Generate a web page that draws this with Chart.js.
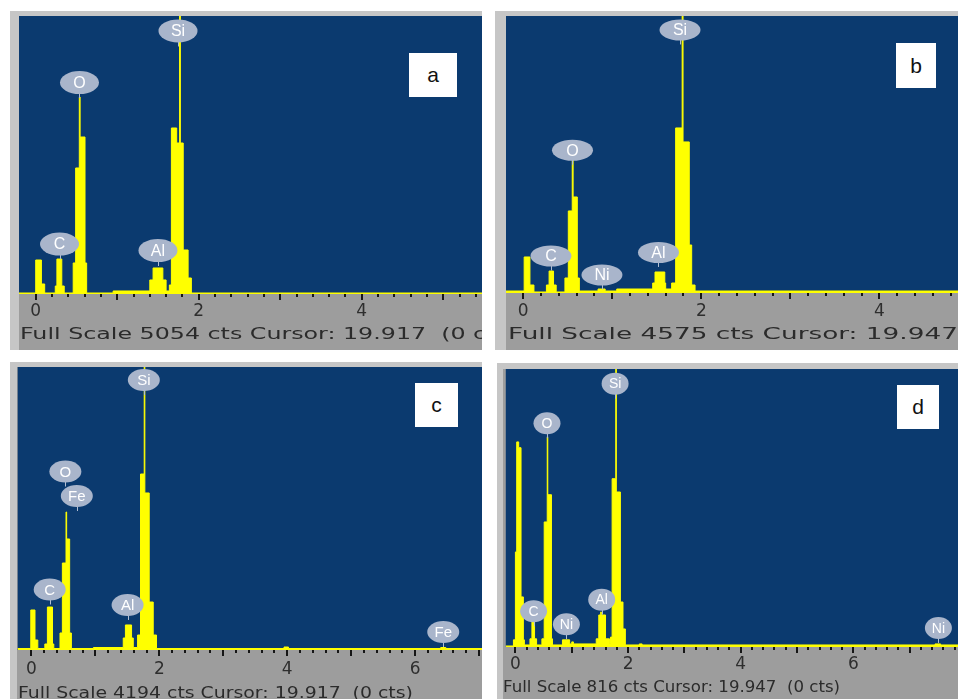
<!DOCTYPE html>
<html>
<head>
<meta charset="utf-8">
<script src="https://cdn.jsdelivr.net/npm/chart.js@4.4.1/dist/chart.umd.min.js"></script>
<style>
  body { margin: 0; background: #fff; }
  #page { position: relative; width: 958px; height: 699px; overflow: hidden; background: #fff; font-family: "Liberation Sans", Arial, sans-serif; }
  .frame { position: absolute; background: #c6c6c6; overflow: hidden; }
  .plot { position: absolute; background: #9d9d9d; }
  .plot canvas { display: block; }
  .fs { position: absolute; white-space: pre; color: #2b2b2b; font-family: "DejaVu Sans", sans-serif; font-size: 16px; line-height: 16px; transform-origin: 0 0; }
  .tag { position: absolute; background: #fff; color: #111; font-size: 21px; display: flex; align-items: center; justify-content: center; }
</style>
</head>
<body>
<div id="page">
  <div class="frame" style="left:10px;top:11px;width:472px;height:339px;">
    <div class="plot" style="left:9px;top:5px;width:463px;height:334px;"><canvas id="ca" width="463" height="334"></canvas></div>
    <div class="tag" style="left:399px;top:42px;width:48px;height:44px;">a</div>
    <div class="fs" style="left:10px;top:315px;" data-sub="Full Scale 5054 cts Cursor: 19.917" data-w="406">Full Scale 5054 cts Cursor: 19.917  (0 cts)</div>
  </div>
  <div class="frame" style="left:495px;top:11px;width:463px;height:339px;">
    <div class="plot" style="left:11px;top:5px;width:452px;height:334px;"><canvas id="cb" width="452" height="334"></canvas></div>
    <div class="tag" style="left:401px;top:32px;width:40px;height:45px;">b</div>
    <div class="fs" style="left:13px;top:315px;" data-sub="Full Scale 4575 cts Cursor: 19.947" data-w="450">Full Scale 4575 cts Cursor: 19.947  (0 cts)</div>
  </div>
  <div class="frame" style="left:10px;top:362px;width:472px;height:337px;">
    <div class="plot" style="left:7px;top:5px;width:465px;height:332px;"><canvas id="cc" width="465" height="332"></canvas></div>
    <div class="tag" style="left:405px;top:21px;width:43px;height:44px;">c</div>
    <div class="fs" style="left:8px;top:323px;" data-sub="Full Scale 4194 cts Cursor: 19.917  (0 cts)" data-w="395">Full Scale 4194 cts Cursor: 19.917  (0 cts)</div>
  </div>
  <div class="frame" style="left:497px;top:363px;width:461px;height:336px;">
    <div class="plot" style="left:6px;top:6px;width:455px;height:330px;"><canvas id="cd" width="455" height="330"></canvas></div>
    <div class="tag" style="left:400px;top:22px;width:42px;height:44px;">d</div>
    <div class="fs" style="left:6px;top:317px;font-size:15px;line-height:15px;" data-sub="Full Scale 816 cts Cursor: 19.947  (0 cts)" data-w="337">Full Scale 816 cts Cursor: 19.947  (0 cts)</div>
  </div>
</div>
<script>
// EDS spectra: energy (keV) where a level starts, counts held until the next energy
const aEnergy = [-0.25, 0.00, 0.07, 0.11, 0.24, 0.26, 0.32, 0.35, 0.46, 0.49, 0.535, 0.545, 0.605, 0.625, 0.95, 1.40, 1.44, 1.56, 1.60, 1.64, 1.665, 1.73, 1.765, 1.775, 1.81, 1.87, 1.91, 5.6];
const aCounts = [18, 618, 182, 18, 145, 636, 145, 18, 564, 2291, 3581, 2854, 564, 18, 55, 255, 473, 255, 55, 164, 3018, 2745, 5272, 2745, 800, 291, 18, 18];

const bEnergy = [-0.25, 0.01, 0.075, 0.12, 0.26, 0.29, 0.34, 0.37, 0.468, 0.506, 0.55, 0.56, 0.607, 0.63, 0.84, 0.92, 1.05, 1.454, 1.48, 1.59, 1.60, 1.667, 1.712, 1.785, 1.795, 1.865, 1.892, 1.93, 5.0];
const bCounts = [33, 595, 132, 17, 132, 363, 132, 17, 248, 1355, 2197, 1586, 248, 33, 66, 33, 66, 165, 347, 165, 66, 165, 2726, 4791, 2495, 793, 132, 33, 33];

const cEnergy = [-0.25, -0.01, 0.056, 0.10, 0.21, 0.25, 0.33, 0.35, 0.447, 0.484, 0.541, 0.551, 0.598, 0.625, 0.97, 1.436, 1.47, 1.566, 1.593, 1.66, 1.706, 1.764, 1.774, 1.842, 1.905, 1.956, 3.95, 4.02, 6.40, 6.48, 7.2];
const cCounts = [22, 593, 148, 22, 89, 637, 89, 22, 252, 1289, 2045, 1645, 252, 22, 37, 178, 371, 178, 37, 222, 2608, 4446, 2327, 711, 222, 22, 44, 22, 37, 22, 22];

const dEnergy = [-0.25, -0.035, 0.0, 0.023, 0.058, 0.10, 0.141, 0.159, 0.258, 0.293, 0.34, 0.376, 0.47, 0.511, 0.565, 0.575, 0.64, 0.658, 0.835, 0.963, 1.00, 1.03, 1.435, 1.48, 1.515, 1.525, 1.60, 1.67, 1.688, 1.717, 1.782, 1.792, 1.864, 1.91, 1.952, 2.20, 2.25, 7.45, 7.55, 8.0];
const dCounts = [3, 21, 279, 602, 585, 147, 21, 6, 24, 79, 24, 6, 24, 367, 617, 447, 24, 6, 21, 9, 15, 9, 24, 94, 103, 94, 24, 9, 29, 494, 823, 455, 132, 53, 6, 9, 6, 9, 6, 6];

const fullScale = [5054, 4575, 4194, 816];
const xRanges = [[-0.205, 5.476], [-0.194, 4.884], [-0.214, 7.046], [-0.171, 7.858]];
const ticksAB = [0, 2, 4];
const ticksCD = [0, 2, 4, 6];

// element markers: name, energy (keV), counts where the marker stem ends
const aPeakNames = ['C', 'O', 'Al', 'Si'];
const aPeakEnergy = [0.292, 0.537, 1.50, 1.746];
const aPeakCounts = [627, 3563, 509, 4500];
const bPeakNames = ['C', 'O', 'Ni', 'Al', 'Si'];
const bPeakEnergy = [0.311, 0.553, 0.884, 1.519, 1.761];
const bPeakCounts = [372, 2118, 58, 430, 4105];
const cPeakNames = ['C', 'O', 'Fe', 'Al', 'Si', 'Fe'];
const cPeakEnergy = [0.286, 0.531, 0.71, 1.504, 1.758, 6.44];
const cPeakCounts = [674, 2423, 2060, 445, 3779, 44];
const dPeakNames = ['C', 'O', 'Ni', 'Al', 'Si', 'Ni'];
const dPeakEnergy = [0.323, 0.561, 0.905, 1.532, 1.770, 7.51];
const dPeakCounts = [61, 613, 23, 95, 729, 12];

const BLUE = '#0b3a6f';
const YELLOW = '#ffff00';

const edsPlugin = {
  id: 'eds',
  beforeDraw(chart) {
    const { ctx, chartArea: a } = chart;
    ctx.save();
    ctx.fillStyle = BLUE;
    ctx.fillRect(a.left, a.top, a.right - a.left, a.bottom - a.top);
    ctx.restore();
  },
  afterDraw(chart, args, opts) {
    const { ctx, chartArea: a, scales: { x, y } } = chart;
    ctx.save();
    // minor ticks every 0.2 keV, longer ones on whole keV
    ctx.fillStyle = '#161616';
    for (let i = 0; i * 0.2 <= x.max; i++) {
      const px = Math.round(x.getPixelForValue(i * 0.2));
      ctx.fillRect(px - 1, a.bottom, 2, i % 5 === 0 ? 6 : 3);
    }
    // element markers
    opts.names.forEach((n, k) => {
      const px = x.getPixelForValue(opts.energy[k]);
      const py = y.getPixelForValue(opts.counts[k]);
      const cy = py - opts.stem - opts.ry;
      ctx.strokeStyle = '#b4bfd2';
      ctx.lineWidth = 1;
      ctx.beginPath();
      ctx.moveTo(Math.round(px) + 0.5, py);
      ctx.lineTo(Math.round(px) + 0.5, cy);
      ctx.stroke();
      ctx.fillStyle = '#a9b5cb';
      ctx.beginPath();
      ctx.ellipse(px, cy, opts.rx, opts.ry, 0, 0, Math.PI * 2);
      ctx.fill();
      ctx.fillStyle = '#ffffff';
      ctx.font = opts.font;
      ctx.textAlign = 'center';
      ctx.textBaseline = 'middle';
      ctx.fillText(n, px, cy + 1);
    });
    ctx.restore();
  }
};

function makeChart(id, energy, counts, idx, ticks, names, pe, pc, st) {
  return new Chart(document.getElementById(id), {
    type: 'line',
    data: {
      datasets: [{
        data: energy.map((e, i) => ({ x: e, y: counts[i] })),
        stepped: true,
        fill: 'origin',
        backgroundColor: YELLOW,
        borderColor: YELLOW,
        borderWidth: 1,
        pointRadius: 0
      }]
    },
    options: {
      responsive: false,
      animation: false,
      events: [],
      layout: { padding: 0 },
      plugins: {
        legend: { display: false },
        tooltip: { enabled: false },
        eds: { names, energy: pe, counts: pc, rx: st.rx, ry: st.ry, stem: 4, font: st.font }
      },
      scales: {
        x: {
          type: 'linear',
          min: xRanges[idx][0],
          max: xRanges[idx][1],
          border: { display: false },
          grid: { display: false, drawTicks: false },
          ticks: {
            color: '#2e2e2e',
            font: { family: 'DejaVu Sans', size: 17 },
            padding: st.tickPad,
            maxRotation: 0,
            autoSkip: false,
            callback: v => String(v)
          },
          afterBuildTicks: s => { s.ticks = ticks.map(v => ({ value: v })); },
          afterFit: s => { s.height = st.axisH; }
        },
        y: { display: false, min: 0, max: fullScale[idx] }
      }
    },
    plugins: [edsPlugin]
  });
}

makeChart('ca', aEnergy, aCounts, 0, ticksAB, aPeakNames, aPeakEnergy, aPeakCounts,
  { axisH: 56, rx: 19.5, ry: 11.5, font: '16px "Liberation Sans", Arial', tickPad: 7 });
makeChart('cb', bEnergy, bCounts, 1, ticksAB, bPeakNames, bPeakEnergy, bPeakCounts,
  { axisH: 57, rx: 20.5, ry: 10.5, font: '16px "Liberation Sans", Arial', tickPad: 8 });
makeChart('cc', cEnergy, cCounts, 2, ticksCD, cPeakNames, cPeakEnergy, cPeakCounts,
  { axisH: 49, rx: 16, ry: 11, font: '15px "Liberation Sans", Arial', tickPad: 9 });
makeChart('cd', dEnergy, dCounts, 3, ticksCD, dPeakNames, dPeakEnergy, dPeakCounts,
  { axisH: 52, rx: 13.5, ry: 11, font: '14px "Liberation Sans", Arial', tickPad: 7 });

// stretch the status lines to the width they take in the picture
const mctx = document.createElement('canvas').getContext('2d');
document.querySelectorAll('.fs').forEach(el => {
  const cs = getComputedStyle(el);
  mctx.font = cs.fontSize + ' ' + cs.fontFamily;
  const w = mctx.measureText(el.dataset.sub).width;
  el.style.transform = 'scaleX(' + (parseFloat(el.dataset.w) / w).toFixed(3) + ')';
});
</script>
</body>
</html>
